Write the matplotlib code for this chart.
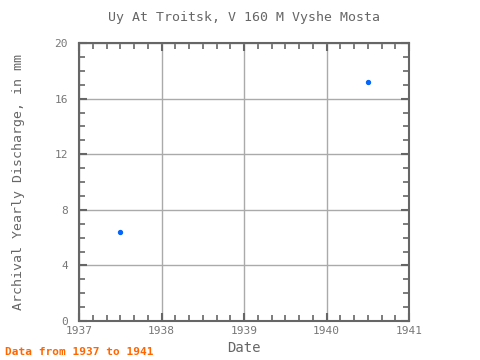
import matplotlib
matplotlib.use("Agg")
import matplotlib.pyplot as plt
from matplotlib.ticker import MultipleLocator

plt.rcParams['font.family'] = ['DejaVu Sans Mono']

years = [1937.5, 1940.5]
discharge = [6.4, 17.2]

fig = plt.figure(figsize=(4.8, 3.6), dpi=100)
ax = fig.add_axes([79/480, 1 - 321/360, 330/480, 278/360])

ax.scatter(years, discharge, s=8, color="#0066ff", zorder=3)

ax.set_xlim(1937, 1941)
ax.set_ylim(0, 20)
ax.xaxis.set_major_locator(MultipleLocator(1))
ax.xaxis.set_minor_locator(MultipleLocator(1/6))
ax.yaxis.set_major_locator(MultipleLocator(4))
ax.yaxis.set_minor_locator(MultipleLocator(1))
ax.grid(True, which="major", color="#aaaaaa", linewidth=1)

for s in ax.spines.values():
    s.set_color("#666666")
    s.set_linewidth(1.5)
ax.tick_params(which="both", direction="in", top=True, right=True,
               colors="#666666", labelcolor="#777777", labelsize=8)
ax.tick_params(which="major", length=6, width=1.5)
ax.tick_params(axis="y", which="major", pad=8)
ax.tick_params(which="minor", length=4, width=1.2)

ax.set_title("Uy At Troitsk, V 160 M Vyshe Mosta", fontsize=9.5, color="#666666", pad=16)
ax.set_xlabel("Date", fontsize=10, color="#666666", labelpad=4)
ax.set_ylabel("Archival Yearly Discharge, in mm", fontsize=9.5, color="#666666")
ax.yaxis.set_label_coords(-54/330, 0.5)
fig.text(5/480, 1 - 352/360, "Data from 1937 to 1941", fontsize=8, color="#ff6600",
         fontweight="bold", va="center")

fig.savefig("out.png", dpi=100)
